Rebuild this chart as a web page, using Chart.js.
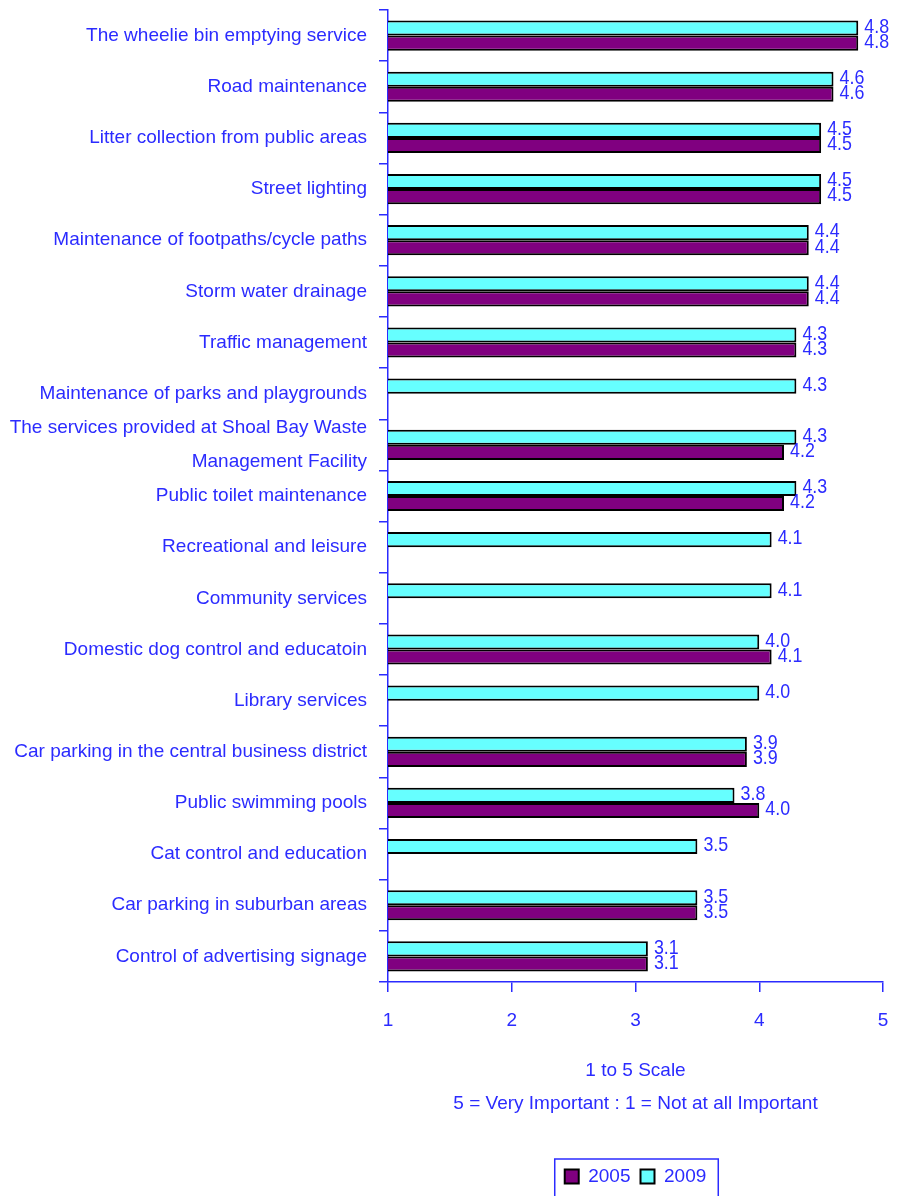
<!DOCTYPE html>
<html>
<head>
<meta charset="utf-8">
<script src="https://cdn.jsdelivr.net/npm/chart.js@4"></script>
<style>
  body { margin: 0; background: #fff; }
  #contenedor { width: 901px; height: 1196px; position: relative; }
</style>
</head>
<body>
<div id="contenedor"><canvas id="importanciaChart"></canvas></div>
<script>
const categorias = [
    'The wheelie bin emptying service',
    'Road maintenance',
    'Litter collection from public areas',
    'Street lighting',
    'Maintenance of footpaths/cycle paths',
    'Storm water drainage',
    'Traffic management',
    'Maintenance of parks and playgrounds',
    ['The services provided at Shoal Bay Waste', 'Management Facility'],
    'Public toilet maintenance',
    'Recreational and leisure',
    'Community services',
    'Domestic dog control and educatoin',
    'Library services',
    'Car parking in the central business district',
    'Public swimming pools',
    'Cat control and education',
    'Car parking in suburban areas',
    'Control of advertising signage'
];
const valores2009 = [4.8, 4.6, 4.5, 4.5, 4.4, 4.4, 4.3, 4.3, 4.3, 4.3, 4.1, 4.1, 4.0, 4.0, 3.9, 3.8, 3.5, 3.5, 3.1];
const valores2005 = [4.8, 4.6, 4.5, 4.5, 4.4, 4.4, 4.3, null, 4.2, 4.2, null, null, 4.1, null, 3.9, 4.0, null, 3.5, 3.1];
const tituloEje = ['1 to 5 Scale', '5 = Very Important : 1 = Not at all Important'];

const azul = '#2b2bff';
const fuente = '"Liberation Sans", Arial, sans-serif';

// etiquetas de valor al final de cada barra (letra estrecha)
const etiquetasBarras = {
    id: 'etiquetasBarras',
    afterDatasetsDraw(chart) {
        const ctx = chart.ctx;
        chart.data.datasets.forEach((ds, i) => {
            const meta = chart.getDatasetMeta(i);
            meta.data.forEach((bar, j) => {
                if (ds.data[j] == null) return;
                ctx.save();
                ctx.fillStyle = azul;
                ctx.font = '21px ' + fuente;
                ctx.textBaseline = 'middle';
                ctx.textAlign = 'left';
                ctx.translate(bar.x + 6, bar.y - 1);
                ctx.scale(0.85, 1);
                ctx.fillText(ds.data[j].toFixed(1), 0, 0);
                ctx.restore();
            });
        });
    }
};

// recuadro alrededor de la leyenda
const marcoLeyenda = {
    id: 'marcoLeyenda',
    afterDraw(chart) {
        const cajas = chart.legend.legendHitBoxes;
        if (!cajas || !cajas.length) return;
        const izq = Math.min(...cajas.map(c => c.left)) - 10;
        const der = Math.max(...cajas.map(c => c.left + c.width)) + 12;
        const arriba = chart.legend.top + 2;
        const ctx = chart.ctx;
        ctx.save();
        ctx.strokeStyle = azul;
        ctx.lineWidth = 1.5;
        ctx.strokeRect(izq, arriba, der - izq, chart.legend.bottom - arriba + 4);
        ctx.restore();
    }
};

const ctx = document.getElementById('importanciaChart').getContext('2d');
const importanciaChart = new Chart(ctx, {
    type: 'bar',
    data: {
        labels: categorias,
        datasets: [{
            label: '2009',
            data: valores2009,
            backgroundColor: '#66ffff',
            borderColor: '#000',
            borderWidth: 2,
            borderSkipped: false,
            categoryPercentage: 0.59,
            barPercentage: 1.0
        }, {
            label: '2005',
            data: valores2005,
            backgroundColor: '#800080',
            borderColor: '#000',
            borderWidth: 2,
            borderSkipped: false,
            categoryPercentage: 0.59,
            barPercentage: 1.0
        }]
    },
    options: {
        indexAxis: 'y',
        responsive: true,
        maintainAspectRatio: false,
        animation: false,
        layout: {
            padding: { top: 10, right: 18, left: 0, bottom: 0 }
        },
        plugins: {
            legend: {
                position: 'bottom',
                fullSize: false,
                reverse: true,
                labels: {
                    color: azul,
                    font: { size: 19, family: fuente },
                    boxWidth: 14,
                    boxHeight: 14,
                    padding: 10
                }
            },
            tooltip: { enabled: false }
        },
        scales: {
            y: {
                grid: {
                    offset: true,
                    drawOnChartArea: false,
                    tickLength: 9,
                    color: azul,
                    lineWidth: 1.5
                },
                border: { color: azul, width: 1.5 },
                ticks: {
                    color: azul,
                    padding: 12,
                    font: { size: 19, family: fuente, lineHeight: 1.8 },
                    autoSkip: false
                },
                afterFit: function(scale) {
                    scale.width = 388;
                    scale.paddingTop = 0;
                    scale.paddingBottom = 0;
                }
            },
            x: {
                min: 1,
                max: 5,
                grid: {
                    drawOnChartArea: false,
                    tickLength: 10,
                    color: azul,
                    lineWidth: 1.5
                },
                border: { color: azul, width: 1.5 },
                ticks: {
                    stepSize: 1,
                    color: azul,
                    padding: 17,
                    font: { size: 19, family: fuente }
                },
                title: {
                    display: true,
                    text: tituloEje,
                    color: azul,
                    font: { size: 19, family: fuente, lineHeight: 1.74 },
                    padding: { top: 0, bottom: 37 }
                },
                afterFit: function(scale) {
                    scale.height = 175;
                    scale.paddingLeft = 0;
                    scale.paddingRight = 0;
                }
            }
        }
    },
    plugins: [etiquetasBarras, marcoLeyenda]
});
</script>
</body>
</html>
